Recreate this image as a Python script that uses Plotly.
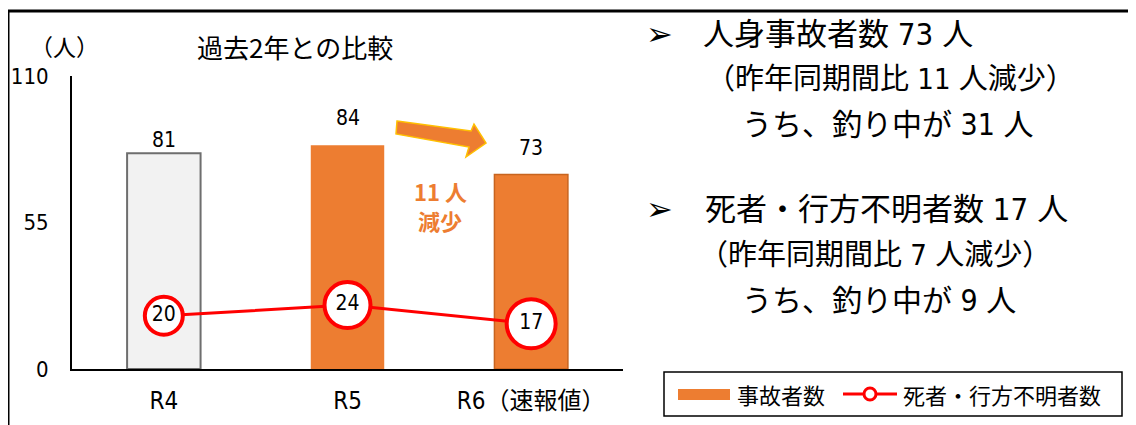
import plotly.graph_objects as go

# ---------------- data ----------------
categories = ["R4", "R5", "R6（速報値）"]
injured = [81, 84, 73]            # 事故者数
dead_missing = [20, 24, 17]       # 死者・行方不明者数
y_ticks = [0, 55, 110]

panel_lines = [
    "人身事故者数 73 人",
    "（昨年同期間比 11 人減少）",
    "うち、釣り中が 31 人",
    "死者・行方不明者数 17 人",
    "（昨年同期間比 7 人減少）",
    "うち、釣り中が 9 人",
]

# ---------------- geometry helpers (page pixel -> paper) ----------------
PAGE_W, PAGE_H = 1136, 425
OFF = 8                       # default page body margin
W, H = PAGE_W - OFF, PAGE_H - OFF
L, R, T, B = 72, 623, 76, 369  # plot area in page pixels


def px(x):
    return (x - L) / (R - L)


def py(y):
    return (B - y) / (B - T)


NARROW = "'Liberation Sans Narrow', 'DejaVu Sans Condensed', 'Noto Sans CJK JP', sans-serif"
JP = "'Noto Sans CJK JP', sans-serif"
ORANGE = "#ED7D31"
RED = "#FF0000"

fig = go.Figure()

fig.add_trace(go.Bar(
    x=categories, y=injured, width=0.4, name="事故者数",
    marker=dict(color=["#F2F2F2", ORANGE, ORANGE], opacity=1,
                line=dict(color=["#6E6E6E", ORANGE, "#C8641F"], width=[2, 0, 1.5])),
    hoverinfo="x+y", showlegend=False,
))

fig.add_trace(go.Scatter(
    x=categories, y=dead_missing, name="死者・行方不明者数",
    mode="lines+markers+text", text=[str(v) for v in dead_missing],
    textposition="middle center",
    textfont=dict(family=NARROW, size=21, color="#000000"),
    line=dict(color=RED, width=3),
    marker=dict(size=[38, 46, 49], color="#FFFFFF", opacity=1,
                line=dict(color=RED, width=4)),
    cliponaxis=False, showlegend=False,
))

# value labels above bars
label_shift = {"R4": 13, "R5": 27, "R6（速報値）": 27}
for c, v in zip(categories, injured):
    fig.add_annotation(x=c, y=v, text=str(v), showarrow=False, yanchor="middle",
                       yshift=label_shift[c], font=dict(family=NARROW, size=21, color="#000000"))

ann = []
# chart title & unit
ann.append(dict(x=px(295), y=py(46), text="過去2年との比較",
                font=dict(family=JP, size=26, color="#000")))
ann.append(dict(x=px(64), y=py(46), text="（人）", font=dict(family=JP, size=23, color="#000")))
# "11人 減少"
ann.append(dict(x=px(440), y=py(191), text="<b>11 人</b>", font=dict(family=JP, size=22, color=ORANGE)))
ann.append(dict(x=px(440), y=py(220), text="<b>減少</b>", font=dict(family=JP, size=22, color=ORANGE)))

# right panel
bullets_y = [34, 209]
for by in bullets_y:
    ann.append(dict(x=px(644), y=py(by), text="➢", xanchor="left",
                    font=dict(family="'DejaVu Sans', sans-serif", size=32, color="#000")))
panel_pos = [(701, 34, 31), (704, 79, 29), (740, 124, 30),
             (703, 209, 31), (697, 255, 29), (740, 300, 30)]
for t, (x0, y0, s) in zip(panel_lines, panel_pos):
    ann.append(dict(x=px(x0), y=py(y0), text=t, xanchor="left",
                    font=dict(family=NARROW, size=s, color="#000")))

# legend texts
ann.append(dict(x=px(735), y=py(394), text="事故者数", xanchor="left",
                font=dict(family=JP, size=22, color="#000")))
ann.append(dict(x=px(901), y=py(394), text="死者・行方不明者数", xanchor="left",
                font=dict(family=JP, size=22, color="#000")))

for a in ann:
    a.setdefault("xanchor", "center")
    a.update(xref="paper", yref="paper", yanchor="middle", showarrow=False)
    fig.add_annotation(**a)

shapes = []


def path(points):
    s = "M " + " L ".join(f"{px(x):.5f},{py(y):.5f}" for x, y in points) + " Z"
    return s


# block arrow
arrow_pts = [(397, 121), (471, 131), (474, 124), (486, 143), (466, 157), (469, 147), (396, 134)]
shapes.append(dict(type="path", path=path(arrow_pts), fillcolor=ORANGE,
                   line=dict(color="#FFC000", width=1.5)))

# outer frame (top & left)
shapes.append(dict(type="line", x0=px(8), y0=py(11), x1=px(1140), y1=py(11), line=dict(color="#000", width=3)))
shapes.append(dict(type="line", x0=px(8), y0=py(11), x1=px(8), y1=py(430), line=dict(color="#000", width=3)))

# legend box
shapes.append(dict(type="rect", x0=px(664), y0=py(372), x1=px(1122), y1=py(416),
                   line=dict(color="#000", width=1.5), fillcolor="rgba(0,0,0,0)"))
shapes.append(dict(type="rect", x0=px(678), y0=py(389), x1=px(730), y1=py(400),
                   line=dict(width=0), fillcolor=ORANGE))
shapes.append(dict(type="line", x0=px(843), y0=py(394), x1=px(897), y1=py(394),
                   line=dict(color=RED, width=3)))
shapes.append(dict(type="circle", x0=px(864), y0=py(400), x1=px(876), y1=py(388),
                   line=dict(color=RED, width=3), fillcolor="#FFFFFF"))

for s in shapes:
    s.update(xref="paper", yref="paper")
    fig.add_shape(**s)

fig.update_layout(
    template="none",
    width=W, height=H,
    margin=dict(l=L - OFF, r=PAGE_W - R, t=T - OFF, b=PAGE_H - B, pad=0, autoexpand=False),
    paper_bgcolor="#FFFFFF", plot_bgcolor="#FFFFFF",
    bargap=0.6, showlegend=False,
    font=dict(family=NARROW, color="#000"),
    xaxis=dict(showline=True, linecolor="#000", linewidth=2, showgrid=False, ticks="",
               zeroline=False, automargin=False,
               tickfont=dict(family=NARROW, size=24, color="#000"), ticklabelstandoff=9,
               fixedrange=True),
    yaxis=dict(range=[0, 110], tickvals=y_ticks, ticktext=[str(v) for v in y_ticks],
               showline=True, linecolor="#000", linewidth=2, showgrid=False, zeroline=False,
               automargin=False,
               ticks="", tickfont=dict(family=NARROW, size=22, color="#000"),
               ticklabelstandoff=17, fixedrange=True),
)

fig.write_html("out.html")
